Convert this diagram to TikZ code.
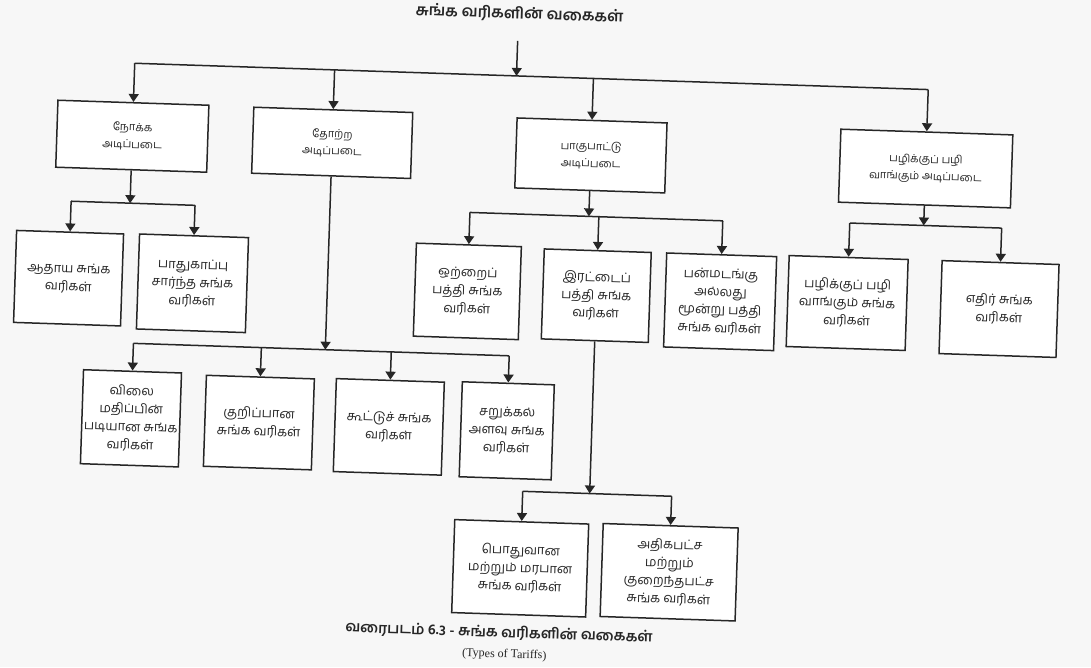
\documentclass[tikz,border=0pt]{standalone}
\usepackage{fontspec}
\setmainfont{Liberation Serif}
\newfontfamily\tam[Script=Tamil]{Hind Madurai}
\usetikzlibrary{arrows.meta}
\tikzset{
  box/.style={draw=black!85, line width=1.5pt, fill=white, align=center, inner sep=1pt,
    font=\tam\fontsize{13}{18}\selectfont, text=black!85},
  topbox/.style={box, font=\tam\fontsize{11}{17}\selectfont},
  arr/.style={draw=black!85, line width=1.5pt, -{Triangle[width=10pt,length=8pt]}},
  ln/.style={draw=black!85, line width=1.5pt},
}
\newcommand{\bx}[7][box]{\node[#1, minimum width=#5pt, minimum height=#6pt] (#2) at (#3,#4) {#7};}
\begin{document}
\begin{tikzpicture}[x=1pt,y=-1pt]
\fill[black!3] (0,0) rectangle (1091,667);
\useasboundingbox (0,0) rectangle (1091,667);
\begin{scope}[rotate around={-1.9:(545,333)}, transform shape]
\node[font=\tam\bfseries\fontsize{15.5}{18}\selectfont, text=black!85] (T) at (509,15) {சுங்க வரிகளின் வகைகள்};
\coordinate (tarr) at (508,42);
\coordinate (bus0) at (508,77);
% row 1
\bx[topbox]{A}{126}{150}{151}{67}{நோக்க\\அடிப்படை}
\bx[topbox]{B}{326}{150}{159}{66}{தோற்ற\\அடிப்படை}
\bx[topbox]{C}{585}{154}{150}{70}{பாகுபாட்டு\\அடிப்படை}
\bx[topbox]{D}{920}{156}{172}{73}{பழிக்குப் பழி\\வாங்கும் அடிப்படை}
% row 2
\bx{a1}{67}{294}{107}{92}{ஆதாய சுங்க\\வரிகள்}
\bx{a2}{191}{295}{109}{95}{பாதுகாப்பு\\சார்ந்த சுங்க\\வரிகள்}
\bx{c1}{466}{294}{105}{93}{ஒற்றைப்\\பத்தி சுங்க\\வரிகள்}
\bx{c2}{595}{294}{107}{90}{இரட்டைப்\\பத்தி சுங்க\\வரிகள்}
\bx{c3}{719}{296}{110}{94}{பன்மடங்கு\\அல்லது\\மூன்று பத்தி\\சுங்க வரிகள்}
\bx{d1}{846}{293}{119}{91}{பழிக்குப் பழி\\வாங்கும் சுங்க\\வரிகள்}
\bx{d2}{998}{294}{117}{93}{எதிர் சுங்க\\வரிகள்}
% row 3
\bx{b1}{134}{432}{98}{94}{விலை\\மதிப்பின்\\படியான சுங்க\\வரிகள்}
\bx{b2}{262}{432}{108}{91}{குறிப்பான\\சுங்க வரிகள்}
\bx{b3}{392}{432}{108}{93}{கூட்டுச் சுங்க\\வரிகள்}
\bx{b4}{510}{432}{92}{95}{சறுக்கல்\\அளவு சுங்க\\வரிகள்}
% row 4
\bx{e1}{528}{569}{134}{93}{பொதுவான\\மற்றும் மரபான\\சுங்க வரிகள்}
\bx{e2}{677}{568}{135}{93}{அதிகபட்ச\\மற்றும்\\குறைந்தபட்ச\\சுங்க வரிகள்}
% buses
\coordinate (busA) at (126,217);
\coordinate (busB) at (326,357);
\coordinate (busC) at (585,215);
\coordinate (busD) at (920,213);
\coordinate (busE) at (595,492);
% top
\draw[arr] (tarr) -- (bus0);
\draw[ln] (A |- bus0) -- (D |- bus0);
\foreach \n in {A,B,C,D} \draw[arr] (\n |- bus0) -- (\n);
% A
\draw[arr] (A) -- (busA);
\draw[ln] (a1 |- busA) -- (a2 |- busA);
\foreach \n in {a1,a2} \draw[arr] (\n |- busA) -- (\n);
% B
\draw[arr] (B) -- (busB);
\draw[ln] (b1 |- busB) -- (b4 |- busB);
\foreach \n in {b1,b2,b3,b4} \draw[arr] (\n |- busB) -- (\n);
% C
\draw[arr] (C) -- (busC);
\draw[ln] (c1 |- busC) -- (c3 |- busC);
\foreach \n in {c1,c2,c3} \draw[arr] (\n |- busC) -- (\n);
% D
\draw[arr] (D) -- (busD);
\draw[ln] (d1 |- busD) -- (d2 |- busD);
\foreach \n in {d1,d2} \draw[arr] (\n |- busD) -- (\n);
% E
\draw[arr] (c2) -- (busE);
\draw[ln] (e1 |- busE) -- (e2 |- busE);
\foreach \n in {e1,e2} \draw[arr] (\n |- busE) -- (\n);
% caption
\node[font=\tam\bfseries\fontsize{14.5}{16}\selectfont, text=black!85, inner sep=0pt] (cap) at (509,634) {வரைபடம் 6.3 - சுங்க வரிகளின் வகைகள்};
\node[font=\fontsize{12}{14}\selectfont, text=black!85, inner sep=0pt] (cap2) at (515,656) {(Types of Tariffs)};
\end{scope}
\end{tikzpicture}
\end{document}
